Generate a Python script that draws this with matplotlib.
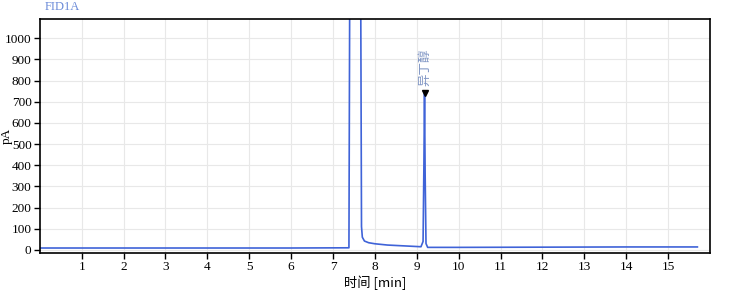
import matplotlib
matplotlib.use('Agg')
import matplotlib.pyplot as plt

# chromatogram
time_min = [0.0, 3.0, 6.0, 7.38, 7.40, 7.66, 7.68, 7.70, 7.75, 7.85, 8.0, 8.3,
            8.6, 8.9, 9.10, 9.15, 9.17, 9.185, 9.20, 9.22, 9.26, 9.4, 10.0,
            12.0, 14.0, 15.7]
signal_pa = [9, 9, 9, 10, 1300, 1300, 110, 60, 42, 34, 29, 23,
             20, 17, 15, 40, 400, 740, 350, 30, 12, 12, 12,
             13, 14, 14]

peak_time = 9.185
peak_height = 740
peak_name = '异丁醇'

xticks = list(range(1, 16))
yticks = list(range(0, 1001, 100))

plt.rcParams['font.family'] = ['Liberation Serif', 'Noto Sans CJK SC']

fig = plt.figure(figsize=(7.38, 2.9), dpi=100)
ax = fig.add_axes([0.054, 0.128, 0.908, 0.806])

ax.plot(time_min, signal_pa, color='#3f63d8', lw=1.2)
ax.plot([peak_time], [peak_height], marker='v', color='black', ms=5)
ax.text(peak_time, peak_height + 35, peak_name, rotation=90, ha='center',
        va='bottom', fontsize=9, color='#7f95c4',
        family=['Noto Sans CJK SC', 'DejaVu Sans'])

ax.set_xlim(0, 16)
ax.set_ylim(-14, 1090)
ax.set_xticks(xticks)
ax.set_yticks(yticks)
ax.tick_params(direction='out', length=4, width=1, labelsize=9.5, pad=2)
ax.grid(True, color='#e8e8e8', lw=0.8)
ax.set_axisbelow(True)
for s in ax.spines.values():
    s.set_linewidth(1.2)
    s.set_color('black')

ax.set_xlabel('时间 [min]', fontsize=9.5, labelpad=2,
              family=['Noto Sans CJK SC', 'DejaVu Sans'])
ax.set_ylabel('pA', fontsize=9.5)
ax.yaxis.set_label_coords(-0.04, 0.5)
fig.text(0.061, 0.975, 'FID1A', fontsize=9, color='#6a8ad8', va='center')

fig.savefig('out.png', dpi=100)
